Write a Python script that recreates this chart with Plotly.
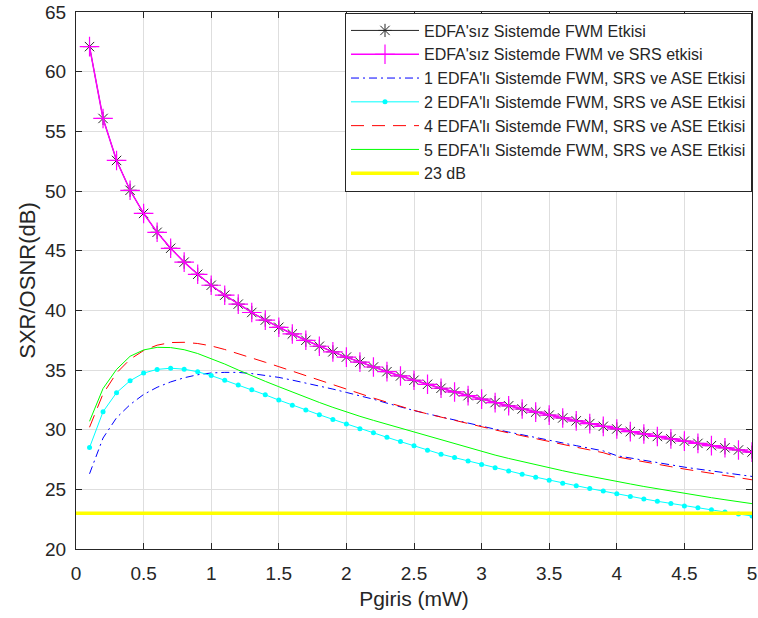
import plotly.graph_objects as go

x = [round(0.1 * k, 1) for k in range(1, 51)]

fwm = [62.10, 56.08, 52.56, 50.06, 48.12, 46.54, 45.20, 44.04, 43.02, 42.10,
       41.27, 40.52, 39.82, 39.18, 38.58, 38.02, 37.49, 36.99, 36.52, 36.08,
       35.66, 35.25, 34.86, 34.50, 34.14, 33.80, 33.47, 33.16, 32.85, 32.56,
       32.27, 32.00, 31.73, 31.47, 31.22, 30.98, 30.74, 30.51, 30.28, 30.06,
       29.84, 29.64, 29.43, 29.23, 29.04, 28.85, 28.66, 28.48, 28.30, 28.12]

fwm_srs = [62.10, 56.08, 52.56, 50.06, 48.12, 46.54, 45.20, 44.04, 43.02, 42.10,
           41.27, 40.52, 39.82, 39.18, 38.58, 38.02, 37.49, 36.99, 36.52, 36.08,
           35.66, 35.25, 34.86, 34.50, 34.14, 33.80, 33.47, 33.16, 32.85, 32.56,
           32.27, 32.00, 31.73, 31.47, 31.22, 30.98, 30.74, 30.51, 30.28, 30.06,
           29.84, 29.64, 29.43, 29.23, 29.04, 28.85, 28.66, 28.48, 28.30, 28.12]

edfa1 = [26.30, 29.30, 31.00, 32.10, 32.95, 33.55, 34.00, 34.35, 34.60, 34.75,
         34.80, 34.80, 34.70, 34.55, 34.38, 34.15, 33.92, 33.67, 33.40, 33.12,
         32.85, 32.55, 32.22, 31.90, 31.60, 31.33, 31.06, 30.80, 30.54, 30.28,
         30.04, 29.80, 29.56, 29.33, 29.10, 28.88, 28.66, 28.44, 28.22, 27.82,
         27.62, 27.43, 27.24, 27.05, 26.86, 26.70, 26.54, 26.38, 26.22, 26.08]

edfa2 = [28.50, 31.50, 33.10, 34.10, 34.74, 35.05, 35.15, 35.07, 34.85, 34.53,
         34.14, 33.75, 33.34, 32.92, 32.48, 32.05, 31.64, 31.25, 30.86, 30.47,
         30.08, 29.75, 29.36, 29.00, 28.65, 28.28, 27.95, 27.66, 27.37, 27.09,
         26.81, 26.53, 26.27, 26.02, 25.77, 25.52, 25.29, 25.07, 24.85, 24.62,
         24.40, 24.20, 24.00, 23.81, 23.61, 23.45, 23.28, 23.10, 22.93, 22.77]

edfa4 = [30.20, 33.00, 34.75, 35.90, 36.63, 37.08, 37.30, 37.32, 37.22, 37.02,
         36.72, 36.38, 36.02, 35.65, 35.28, 34.90, 34.52, 34.15, 33.75, 33.38,
         33.00, 32.65, 32.30, 31.95, 31.62, 31.32, 31.04, 30.77, 30.50, 30.24,
         29.98, 29.73, 29.48, 29.24, 29.00, 28.76, 28.53, 28.30, 28.07, 27.72,
         27.50, 27.30, 27.10, 26.90, 26.70, 26.52, 26.34, 26.16, 25.98, 25.80]

edfa5 = [30.70, 33.45, 35.05, 36.15, 36.68, 36.90, 36.88, 36.70, 36.38, 35.95,
         35.50, 35.00, 34.50, 34.05, 33.60, 33.15, 32.70, 32.28, 31.87, 31.48,
         31.12, 30.78, 30.45, 30.13, 29.82, 29.46, 29.13, 28.80, 28.48, 28.15,
         27.87, 27.59, 27.32, 27.06, 26.80, 26.56, 26.32, 26.09, 25.87, 25.65,
         25.45, 25.24, 25.04, 24.84, 24.65, 24.47, 24.30, 24.13, 23.96, 23.80]

ref_x = [0, 5]
ref_y = [23, 23]

names = ["EDFA'sız Sistemde FWM Etkisi",
         "EDFA'sız Sistemde FWM ve SRS etkisi",
         "1 EDFA'lı Sistemde FWM, SRS ve ASE Etkisi",
         "2 EDFA'lı Sistemde FWM, SRS ve ASE Etkisi",
         "4 EDFA'lı Sistemde FWM, SRS ve ASE Etkisi",
         "5 EDFA'lı Sistemde FWM, SRS ve ASE Etkisi",
         "23 dB"]

FONT = "Liberation Sans, Arial"
DARK = "#262626"

fig = go.Figure()
fig.add_trace(go.Scatter(x=x, y=fwm, name=names[0], mode="lines+markers",
                         line=dict(color=DARK, width=1),
                         marker=dict(symbol="asterisk-open", size=11,
                                     line=dict(color=DARK, width=1))))
fig.add_trace(go.Scatter(x=x, y=fwm_srs, name=names[1], mode="lines+markers",
                         line=dict(color="#ff00ff", width=1.5),
                         marker=dict(symbol="cross-thin-open", size=14,
                                     line=dict(color="#ff00ff", width=1.2))))
fig.add_trace(go.Scatter(x=x, y=edfa1, name=names[2], mode="lines",
                         line=dict(color="#0000ff", width=1, dash="8px,4px,2px,4px")))
fig.add_trace(go.Scatter(x=x, y=edfa2, name=names[3], mode="lines+markers",
                         line=dict(color="#00ffff", width=1),
                         marker=dict(symbol="circle", size=5, color="#00ffff")))
fig.add_trace(go.Scatter(x=x, y=edfa4, name=names[4], mode="lines",
                         line=dict(color="#ff0000", width=1, dash="13px,8px")))
fig.add_trace(go.Scatter(x=x, y=edfa5, name=names[5], mode="lines",
                         line=dict(color="#00ff00", width=1)))
fig.add_trace(go.Scatter(x=ref_x, y=ref_y, name=names[6], mode="lines",
                         line=dict(color="#ffff00", width=3.5)))

axis_common = dict(showline=True, linecolor=DARK, linewidth=1, mirror="ticks",
                   ticks="inside", ticklen=6, tickcolor=DARK,
                   showgrid=True, gridcolor="#dedede", gridwidth=1,
                   zeroline=False, ticklabeloverflow="allow", automargin=False,
                   tickfont=dict(family=FONT, size=19, color=DARK))

fig.update_layout(
    width=758, height=618,
    margin=dict(l=76, r=6, t=12, b=69),
    paper_bgcolor="white", plot_bgcolor="white",
    showlegend=True,
    legend=dict(x=1.0, y=0.999, xanchor="right", yanchor="top",
                bgcolor="white", bordercolor=DARK, borderwidth=1,
                font=dict(family=FONT, size=16, color=DARK),
                itemwidth=68, tracegroupgap=0),
    xaxis=dict(range=[0, 5], dtick=0.5, tick0=0, ticklabelstandoff=7,
               title=dict(text="Pgiris (mW)", font=dict(family=FONT, size=21, color=DARK), standoff=8),
               **axis_common),
    yaxis=dict(range=[20, 65], dtick=5, tick0=20, ticklabelstandoff=5,
               title=dict(text="SXR/OSNR(dB)", font=dict(family=FONT, size=22, color=DARK), standoff=3),
               **axis_common),
)

fig.write_html("out.html")
